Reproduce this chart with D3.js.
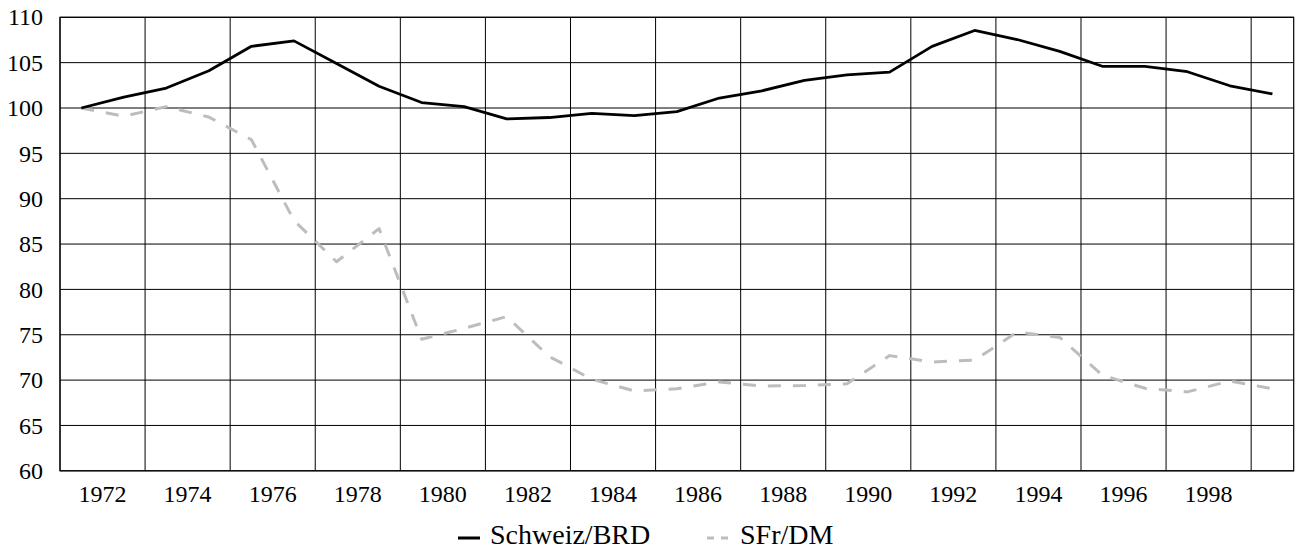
<!DOCTYPE html>
<html>
<head>
<meta charset="utf-8">
<script src="https://cdn.jsdelivr.net/npm/d3@7"></script>
<style>
  html, body { margin: 0; padding: 0; background: #fff; }
  svg { display: block; }
  svg text { font-family: 'Liberation Serif', Tinos, 'DejaVu Serif', serif; }
</style>
</head>
<body>
<svg id="chart" width="1296" height="549"></svg>
<script>
// ---- data ----
const years = d3.range(1971, 2000); // 1971..1999 (annual values)
const schweizBRD = [100, 101.2, 102.2, 104.1, 106.8, 107.4, 104.9, 102.4, 100.6, 100.15,
                    98.8, 98.95, 99.4, 99.15, 99.6, 101.1, 101.9, 103.05, 103.65, 103.95,
                    106.8, 108.55, 107.55, 106.25, 104.6, 104.6, 104.0, 102.45, 101.55];
const sfrDM      = [100, 99.1, 100.15, 99.0, 96.5, 87.6, 83.05, 86.7, 74.5, 75.7,
                    77.0, 72.6, 70.1, 68.8, 69.05, 69.8, 69.35, 69.4, 69.6, 72.7,
                    72.0, 72.2, 75.3, 74.7, 70.55, 69.1, 68.7, 69.9, 69.05];
const yTicks = [60, 65, 70, 75, 80, 85, 90, 95, 100, 105, 110];
const xLabelYears = d3.range(1972, 2000, 2);   // 1972..1998
const xGridYears = d3.range(1971, 2001, 2);    // 1971..1999
const seriesNames = ["Schweiz/BRD", "SFr/DM"];

// ---- layout ----
const mLeft = 60, mRight = 1293.7, mTop = 17.3, mBottom = 470.8;
const FONT = "'Liberation Serif', Tinos, 'DejaVu Serif', serif";
const svg = d3.select("#chart").attr("font-family", FONT);

const x = d3.scaleLinear().domain([1971, 2000]).range([mLeft, mRight]);
const y = d3.scaleLinear().domain([60, 110]).range([mBottom, mTop]);

// horizontal gridlines
svg.append("g").selectAll("line").data(yTicks).join("line")
  .attr("x1", mLeft).attr("x2", mRight)
  .attr("y1", d => y(d)).attr("y2", d => y(d))
  .attr("stroke", "#000").attr("stroke-width", 1);

// vertical gridlines
svg.append("g").selectAll("line").data(xGridYears).join("line")
  .attr("x1", d => x(d)).attr("x2", d => x(d))
  .attr("y1", mTop).attr("y2", mBottom)
  .attr("stroke", "#000").attr("stroke-width", 1);

// frame
svg.append("rect").attr("x", mLeft).attr("y", mTop)
  .attr("width", mRight - mLeft).attr("height", mBottom - mTop)
  .attr("fill", "none").attr("stroke", "#000").attr("stroke-width", 1.2);

// y tick labels
svg.append("g").selectAll("text").data(yTicks).join("text")
  .attr("x", 43).attr("y", d => y(d)).attr("dy", "0.34em")
  .attr("text-anchor", "end").attr("font-size", 24).attr("fill", "#000")
  .attr("font-family", FONT)
  .text(d => d);

// x labels
svg.append("g").selectAll("text").data(xLabelYears).join("text")
  .attr("x", d => x(d)).attr("y", 501.5)
  .attr("text-anchor", "middle").attr("font-size", 24).attr("fill", "#000")
  .attr("font-family", FONT)
  .text(d => d);

// lines
const line = d3.line().x((d, i) => x(years[i] + 0.5)).y(d => y(d));

svg.append("path").datum(sfrDM)
  .attr("d", line).attr("fill", "none")
  .attr("stroke", "#BDBDBD").attr("stroke-width", 3)
  .attr("stroke-dasharray", "13,12").attr("stroke-linejoin", "round");

svg.append("path").datum(schweizBRD)
  .attr("d", line).attr("fill", "none")
  .attr("stroke", "#000").attr("stroke-width", 2.8)
  .attr("stroke-linejoin", "round");

// legend
const lg = svg.append("g");
lg.append("line").attr("x1", 458).attr("x2", 480).attr("y1", 538).attr("y2", 538)
  .attr("stroke", "#000").attr("stroke-width", 3);
lg.append("text").attr("x", 490).attr("y", 543.5).attr("font-size", 28).attr("fill", "#000")
  .attr("font-family", FONT)
  .text(seriesNames[0]);
lg.append("line").attr("x1", 707).attr("x2", 729).attr("y1", 538).attr("y2", 538)
  .attr("stroke", "#BDBDBD").attr("stroke-width", 3).attr("stroke-dasharray", "7,7");
lg.append("text").attr("x", 740).attr("y", 543.5).attr("font-size", 28).attr("fill", "#000")
  .attr("font-family", FONT)
  .text(seriesNames[1]);
</script>
</body>
</html>
